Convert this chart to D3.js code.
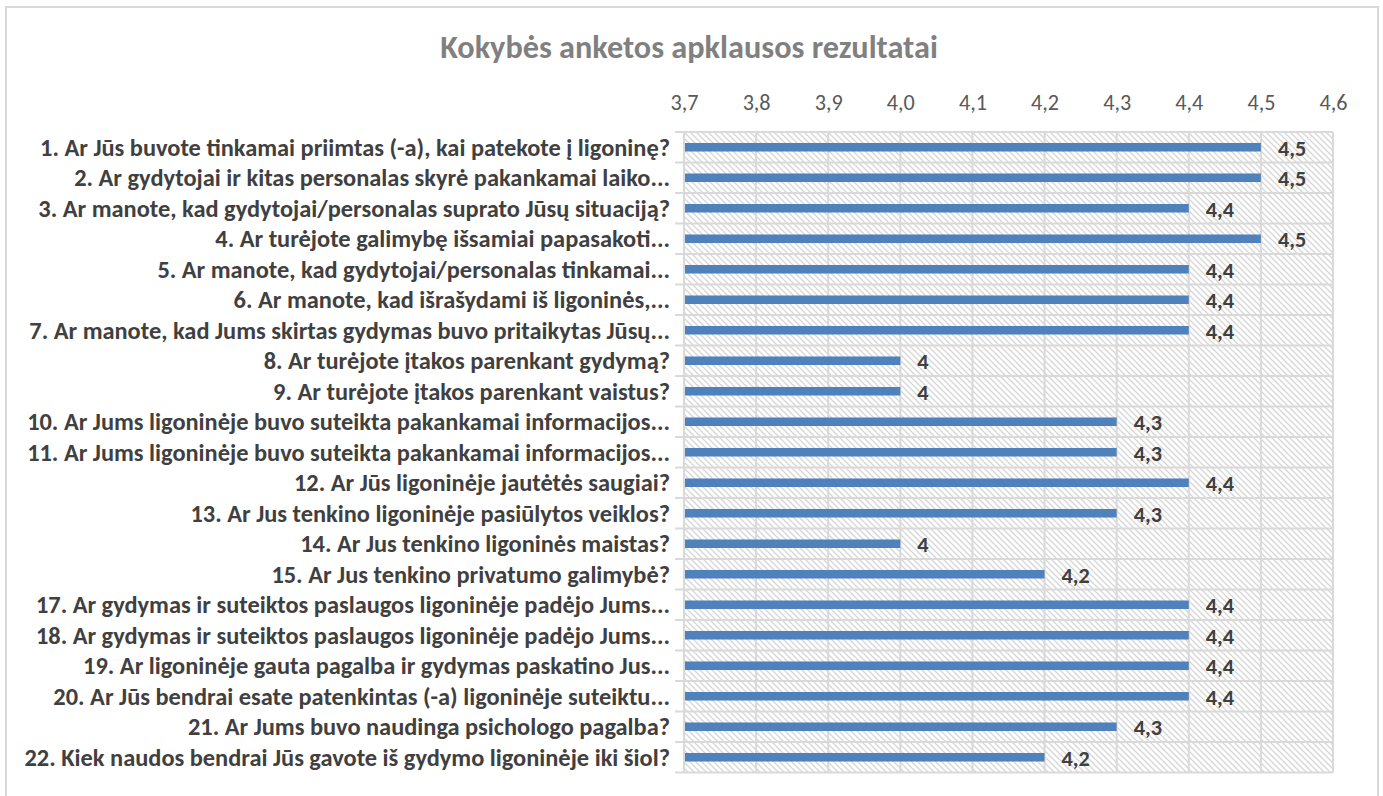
<!DOCTYPE html>
<html><head><meta charset="utf-8">
<script src="https://cdn.jsdelivr.net/npm/d3@7"></script>
<style>body{margin:0;background:#fff}svg{display:block}</style>
</head><body>
<svg id="c" width="1383" height="796"></svg>
<script>
const title = "Kokybės anketos apklausos rezultatai";
const categories = [
 "1. Ar Jūs buvote tinkamai priimtas (-a), kai patekote į ligoninę?",
 "2. Ar gydytojai ir kitas personalas skyrė pakankamai laiko...",
 "3. Ar manote, kad gydytojai/personalas suprato Jūsų situaciją?",
 "4. Ar turėjote galimybę išsamiai papasakoti...",
 "5. Ar manote, kad gydytojai/personalas tinkamai...",
 "6. Ar manote, kad išrašydami iš ligoninės,...",
 "7. Ar manote, kad Jums skirtas gydymas buvo pritaikytas Jūsų...",
 "8. Ar turėjote įtakos parenkant gydymą?",
 "9. Ar turėjote įtakos parenkant vaistus?",
 "10. Ar Jums ligoninėje buvo suteikta pakankamai informacijos...",
 "11. Ar Jums ligoninėje buvo suteikta pakankamai informacijos...",
 "12. Ar Jūs ligoninėje jautėtės saugiai?",
 "13. Ar Jus tenkino ligoninėje pasiūlytos veiklos?",
 "14. Ar Jus tenkino ligoninės maistas?",
 "15. Ar Jus tenkino privatumo galimybė?",
 "17. Ar gydymas ir suteiktos paslaugos ligoninėje padėjo Jums...",
 "18. Ar gydymas ir suteiktos paslaugos ligoninėje padėjo Jums...",
 "19. Ar ligoninėje gauta pagalba ir gydymas paskatino Jus...",
 "20. Ar Jūs bendrai esate patenkintas (-a) ligoninėje suteiktu...",
 "21. Ar Jums buvo naudinga psichologo pagalba?",
 "22. Kiek naudos bendrai Jūs gavote iš gydymo ligoninėje iki šiol?"
];
const values = [4.5,4.5,4.4,4.5,4.4,4.4,4.4,4.0,4.0,4.3,4.3,4.4,4.3,4.0,4.2,4.4,4.4,4.4,4.4,4.3,4.2];
const xTicks = [3.7,3.8,3.9,4.0,4.1,4.2,4.3,4.4,4.5,4.6];
const xDomain = [3.7,4.6];

const FONT = "Carlito, Calibri, 'Liberation Sans Narrow', 'Open Sans', sans-serif";
const svg = d3.select("#c");
const L = 684, R = 1333, T = 132, B = 772.5;
const x = d3.scaleLinear().domain(xDomain).range([L,R]);
const y = d3.scaleBand().domain(categories).range([T,B]).paddingInner(0.72).paddingOuter(0.36);
const step = y.step();
const fmt = v => (Math.round(v*10)/10 === Math.round(v) ? d3.format("d")(v) : d3.format(".1f")(v).replace(".",","));
const fmtTick = v => d3.format(".1f")(v).replace(".",",");

function fitSize(sel, base, targetW, node) {
  sel.attr("font-size", base);
  const w = (node || sel.node()).getComputedTextLength();
  const fs = base * targetW / w;
  sel.attr("font-size", fs);
  return fs;
}

// border
svg.append("rect").attr("x",6).attr("y",7).attr("width",1372).attr("height",820)
  .attr("fill","#fff").attr("stroke","#d9d9d9").attr("stroke-width",2);

// hatch pattern
const defs = svg.append("defs");
const pat = defs.append("pattern").attr("id","hatch").attr("patternUnits","userSpaceOnUse")
  .attr("width",6).attr("height",6);
pat.append("rect").attr("width",6).attr("height",6).attr("fill","#fff");
pat.append("path").attr("d","M0,0 L6,6 M-3,3 L3,9 M3,-3 L9,3").attr("stroke","#d6d6d6").attr("stroke-width",1.3);

svg.append("rect").attr("x",L).attr("y",T).attr("width",R-L).attr("height",B-T).attr("fill","url(#hatch)");

// gridlines
const g = svg.append("g");
g.selectAll("line.v").data(xTicks).join("line")
  .attr("x1",d=>x(d)).attr("x2",d=>x(d)).attr("y1",T).attr("y2",B)
  .attr("stroke","#d9d9d9").attr("stroke-width",2);
const bounds = d3.range(categories.length+1).map(i=>T+i*step);
g.selectAll("line.h").data(bounds).join("line")
  .attr("x1",L-9).attr("x2",R).attr("y1",d=>d).attr("y2",d=>d)
  .attr("stroke","#d9d9d9").attr("stroke-width",2);

// axis top
const ax = svg.append("g").attr("transform",`translate(0,${T})`)
  .call(d3.axisTop(x).tickValues(xTicks).tickFormat(fmtTick).tickSize(0).tickPadding(22));
ax.select(".domain").remove();
ax.attr("font-family",FONT).attr("font-size",null);
const tks = ax.selectAll("text").attr("font-family",FONT).attr("fill","#595959").attr("dy",0);
fitSize(tks, 18, 28);
tks.attr("y",-22);

// bars
svg.append("g").selectAll("rect").data(values).join("rect")
  .attr("x",x(xDomain[0])+1).attr("y",(d,i)=>y(categories[i]))
  .attr("width",d=>x(d)-x(xDomain[0])-1).attr("height",y.bandwidth())
  .attr("fill","#4f81bd");

// data labels
const dl = svg.append("g").selectAll("text").data(values).join("text")
  .attr("x",d=>x(d)+17).attr("y",(d,i)=>y(categories[i])+y.bandwidth()/2)
  .attr("dy","0.38em").attr("font-family",FONT).attr("font-weight","bold")
  .attr("fill","#404040").text(fmt);
fitSize(dl, 18, 28.3);

// category labels
const cl = svg.append("g").selectAll("text").data(categories).join("text")
  .attr("x",670).attr("y",d=>y(d)+y.bandwidth()/2).attr("dy","0.35em")
  .attr("text-anchor","end").attr("font-family",FONT).attr("font-weight","bold")
  .attr("fill","#404040").text(d=>d);
fitSize(cl, 17, 646, cl.nodes()[categories.length-1]);

// title
const tt = svg.append("text").attr("x",689).attr("y",58).attr("text-anchor","middle")
  .attr("font-family",FONT).attr("font-weight","bold").attr("fill","#808080").text(title);
fitSize(tt, 25, 498);
</script>
</body></html>
